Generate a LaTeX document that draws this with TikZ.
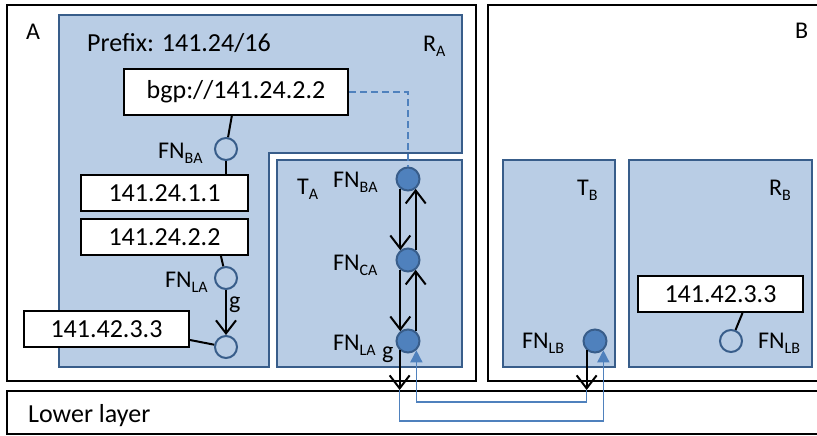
\documentclass[tikz,border=0pt]{standalone}
\usepackage{fontspec}
\setmainfont{Carlito}
\usetikzlibrary{arrows.meta,calc}

\definecolor{areafill}{RGB}{185,205,229}
\definecolor{arealine}{RGB}{56,93,138}
\definecolor{fnblue}{RGB}{79,129,189}
\newcommand{\sbs}[1]{\raisebox{-5pt}{\fontsize{16}{16}\selectfont #1}}

\tikzset{
  area/.style={draw=arealine, fill=areafill, line width=2pt},
  frame/.style={draw=black, line width=2pt},
  addr/.style={draw, fill=white, line width=2pt, minimum height=36pt, inner sep=0pt,
    font=\fontsize{26}{30}\selectfont},
  fnopen/.style={circle, draw=arealine, line width=2pt, minimum size=22pt, inner sep=0pt},
  fnfull/.style={circle, draw=arealine, fill=fnblue, line width=2pt, minimum size=23pt, inner sep=0pt},
  lbl/.style={anchor=base west, inner sep=0pt, font=\fontsize{24}{28}\selectfont},
  big/.style={anchor=base west, inner sep=0pt, font=\fontsize{26}{30}\selectfont},
  flow/.style={line width=2pt, -{Straight Barb[length=13pt,width=20pt,line width=2pt]}},
  lowlink/.style={draw=fnblue, line width=1.5pt},
  lowflow/.style={lowlink, -{Triangle[length=12pt,width=12pt]}},
}

\begin{document}
\begin{tikzpicture}[x=1pt,y=-1pt]
        \useasboundingbox (0,0) rectangle (817,436);
        % Draw systems and lower layer
        \draw [frame] (7,5) rectangle (476,381);
        \draw [frame] (488,5) rectangle (824,381);
        \draw [frame] (7,391) rectangle (824,434);
        \node [lbl] (la) at (26,40) {A};
        \node [lbl] (lb) at (795,39) {B};
        \node [big] (lower) at (28,422) {Lower layer};
        % Draw areas
        \draw [area] (59,15) -- (462,15) -- (462,153) -- (269,153) -- (269,367) -- (59,367) -- cycle;
        \draw [area] (277,160) rectangle (462,367);
        \draw [area] (503,160) rectangle (615,367);
        \draw [area] (629,160) rectangle (812,367);
        \node [big] (prefix) at (87,52) {Prefix: 141.24/16};
        \node [lbl] (lra) at (423,52) {R\sbs{A}};
        \node [lbl] (lta) at (297,194) {T\sbs{A}};
        \node [lbl] (ltb) at (577,195) {T\sbs{B}};
        \node [lbl] (lrb) at (769,195) {R\sbs{B}};
        % Address boxes
        \node [addr, minimum width=224pt, minimum height=46pt] (bgp) at (236,92) {bgp://141.24.2.2};
        \node [addr, minimum width=167pt] (ipa) at (164.5,193) {141.24.1.1};
        \node [addr, minimum width=167pt] (ipb) at (164.5,237) {141.24.2.2};
        \node [addr, minimum width=165pt] (ipc) at (106.5,329) {141.42.3.3};
        \node [addr, minimum width=165pt] (ipd) at (720.5,294) {141.42.3.3};
        % Functional nodes
        \node [fnopen] (fnba) at (226,149) {};
        \node [fnopen] (fnla) at (226,278) {};
        \node [fnopen] (fnx) at (226,347) {};
        \node [fnopen] (rfnlb) at (731,341) {};
        \node [fnfull] (tfnba) at (408,179) {};
        \node [fnfull] (tfnca) at (408,260) {};
        \node [fnfull] (tfnla) at (408,341) {};
        \node [fnfull] (tfnlb) at (595,341) {};
        \node [lbl] (lfnba) at (158,158) {FN\sbs{BA}};
        \node [lbl] (lfnla) at (165,287) {FN\sbs{LA}};
        \node [lbl] (ltfnba) at (333,187) {FN\sbs{BA}};
        \node [lbl] (ltfnca) at (333,270) {FN\sbs{CA}};
        \node [lbl] (ltfnla) at (333,350) {FN\sbs{LA}};
        \node [lbl] (ltfnlb) at (522,348) {FN\sbs{LB}};
        \node [lbl] (lrfnlb) at (758,348) {FN\sbs{LB}};
        \node [lbl] (ga) at (229,308) {g};
        \node [lbl] (gb) at (382,358) {g};
        % Bindings in R_A and R_B
        \draw [line width=2pt] (bgp) -- (fnba);
        \draw [line width=2pt] (fnba) -- (fnba |- ipa.north);
        \draw [line width=2pt] (fnla) -- (fnla.115 |- ipb.south);
        \draw [flow] (fnla) -- (fnx);
        \draw [line width=2pt] ($(ipc.east)+(0,11)$) -- (fnx);
        \draw [line width=2pt] ($(ipd.south)+(22,0)$) -- (rfnlb);
        \draw [lowlink, dashed, dash pattern=on 7pt off 4pt] (bgp.east) -| (tfnba);
        % Flows in T_A
        \draw [flow] (tfnba.232) -- (tfnca.128);
        \draw [flow] (tfnca.232) -- (tfnla.128);
        \draw [flow] (tfnca.52) -- (tfnba.308);
        \draw [flow] (tfnla.52) -- (tfnca.308);
        % Down to the lower layer and across
        \coordinate (outa) at (tfnla.228 |- 0,390);
        \coordinate (outb) at (tfnlb.228 |- 0,390);
        \draw [flow] (tfnla.228) -- (outa);
        \draw [flow] (tfnlb.228) -- (outb);
        \draw [lowflow] (outa) -- ++(0,31) -| (tfnlb.312);
        \draw [lowflow] (outb) -- ++(0,12) -| (tfnla.312);
\end{tikzpicture}
\end{document}
